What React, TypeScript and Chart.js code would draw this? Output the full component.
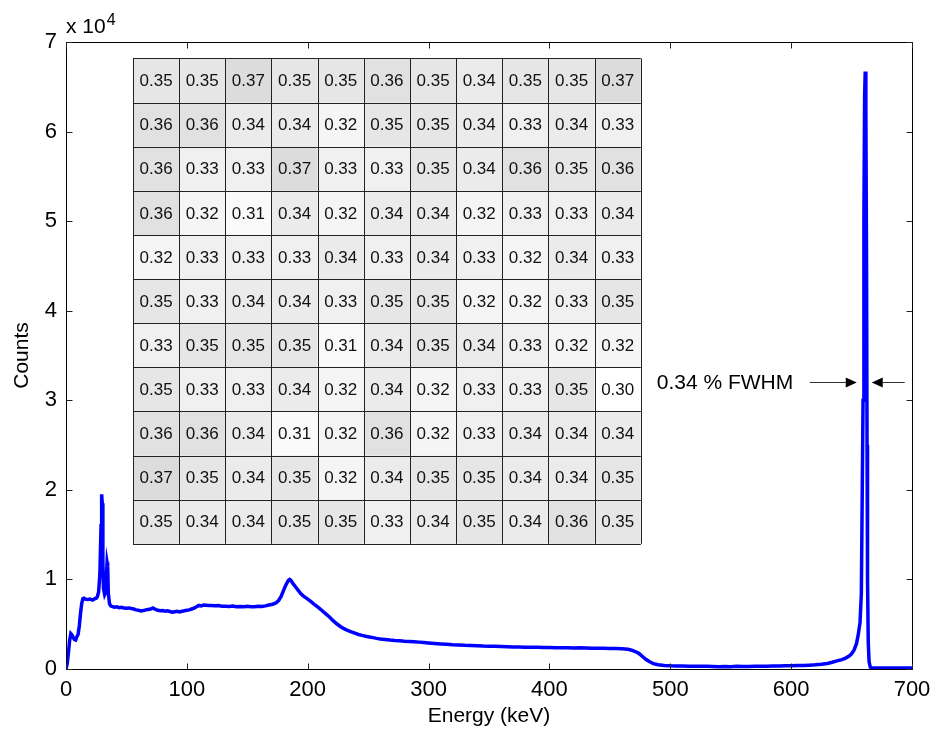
import React, { useEffect, useRef } from "react";
import { Chart, registerables } from "chart.js";

Chart.register(...registerables);

const FONT = '"Liberation Sans", Arial, Helvetica, sans-serif';

// Spectrum: energy (keV) and counts
const energies = [
  0, 1, 2, 3, 4, 5, 6, 7, 8, 9,
  10, 11, 12, 13, 14, 15, 16, 18, 20, 22,
  24, 25, 26, 27, 28, 29, 29.5, 30, 30.5, 31,
  32, 33, 33.5, 34, 34.5, 35, 36, 37, 38, 40,
  42, 44, 46, 48, 50, 52, 54, 56, 58, 60,
  62, 64, 66, 68, 70, 72, 74, 76, 78, 80,
  82, 84, 86, 88, 90, 92, 94, 96, 98, 100,
  102, 104, 106, 108, 110, 112, 114, 116, 118, 120,
  123, 126, 129, 132, 135, 138, 141, 144, 147, 150,
  153, 156, 159, 162, 165, 168, 171, 174, 176, 178,
  180, 182, 184, 185, 186, 188, 190, 192, 194, 196,
  198, 200, 203, 206, 209, 212, 215, 218, 221, 224,
  227, 230, 233, 236, 239, 242, 245, 248, 251, 254,
  257, 260, 264, 268, 272, 276, 280, 284, 288, 292,
  296, 300, 305, 310, 315, 320, 325, 330, 335, 340,
  345, 350, 355, 360, 365, 370, 375, 380, 385, 390,
  395, 400, 405, 410, 415, 420, 425, 430, 435, 440,
  445, 450, 455, 460, 465, 468, 471, 474, 477, 480,
  483, 486, 490, 495, 500, 505, 510, 515, 520, 525,
  530, 535, 540, 545, 550, 555, 560, 565, 570, 575,
  580, 585, 590, 595, 600, 605, 610, 615, 620, 625,
  630, 634, 638, 642, 645, 648, 650, 652, 654, 655.5,
  657, 658.1, 659.5, 660.2, 660.8, 661.3, 661.8, 662.4, 662.8, 663.2,
  663.8, 664.5, 665.5, 666.5, 668, 672, 676, 680, 685, 690,
  695, 700,
];

const counts = [
  0, 600, 1800, 3200, 3950, 3800, 3500, 3300, 3250, 3600,
  3850, 4800, 6200, 7300, 7850, 7900, 7800, 7750, 7800, 7700,
  7850, 7900, 8100, 8600, 10500, 16000, 19500, 18500, 12000, 9000,
  8300, 8600, 10500, 11900, 11500, 8500, 7300, 7050, 7000, 6900,
  6950, 6850, 6880, 6800, 6780, 6820, 6750, 6700, 6600, 6550,
  6480, 6520, 6600, 6650, 6700, 6820, 6650, 6550, 6500, 6520,
  6450, 6500, 6420, 6350, 6400, 6450, 6380, 6450, 6500, 6560,
  6600, 6700, 6800, 6950, 7100, 7050, 7150, 7120, 7080, 7100,
  7050, 7080, 7010, 7000, 6980, 7020, 6950, 6970, 6940, 7000,
  6960, 6940, 7000, 6980, 7050, 7150, 7230, 7400, 7670, 8100,
  8780, 9400, 9890, 10000, 9900, 9500, 9150, 8800, 8450, 8200,
  8000, 7800, 7500, 7150, 6850, 6500, 6150, 5800, 5400, 5050,
  4750, 4500, 4300, 4150, 4000, 3850, 3750, 3650, 3580, 3500,
  3420, 3350, 3300, 3230, 3180, 3150, 3100, 3080, 3050, 3000,
  2950, 2900, 2850, 2800, 2750, 2700, 2680, 2640, 2620, 2600,
  2560, 2540, 2530, 2500, 2480, 2470, 2450, 2440, 2430, 2420,
  2400, 2410, 2380, 2370, 2360, 2350, 2370, 2340, 2320, 2330,
  2310, 2300, 2280, 2270, 2200, 2100, 1950, 1750, 1400, 1050,
  800, 600, 480, 400, 360, 340, 330, 320, 310, 300,
  300, 290, 260, 280, 250, 300, 270, 290, 300, 310,
  320, 330, 340, 350, 370, 380, 400, 430, 470, 530,
  620, 750, 900, 1050, 1220, 1450, 1700, 2100, 2800, 3800,
  5200, 8450, 30000, 50000, 64000, 66700, 63000, 45000, 25000, 10000,
  3000, 800, 200, 120, 120, 110, 120, 110, 100, 110,
  110, 100,
];

// 11 x 11 table of FWHM values (%)
const tableValues = [
  [0.35, 0.35, 0.37, 0.35, 0.35, 0.36, 0.35, 0.34, 0.35, 0.35, 0.37],
  [0.36, 0.36, 0.34, 0.34, 0.32, 0.35, 0.35, 0.34, 0.33, 0.34, 0.33],
  [0.36, 0.33, 0.33, 0.37, 0.33, 0.33, 0.35, 0.34, 0.36, 0.35, 0.36],
  [0.36, 0.32, 0.31, 0.34, 0.32, 0.34, 0.34, 0.32, 0.33, 0.33, 0.34],
  [0.32, 0.33, 0.33, 0.33, 0.34, 0.33, 0.34, 0.33, 0.32, 0.34, 0.33],
  [0.35, 0.33, 0.34, 0.34, 0.33, 0.35, 0.35, 0.32, 0.32, 0.33, 0.35],
  [0.33, 0.35, 0.35, 0.35, 0.31, 0.34, 0.35, 0.34, 0.33, 0.32, 0.32],
  [0.35, 0.33, 0.33, 0.34, 0.32, 0.34, 0.32, 0.33, 0.33, 0.35, 0.30],
  [0.36, 0.36, 0.34, 0.31, 0.32, 0.36, 0.32, 0.33, 0.34, 0.34, 0.34],
  [0.37, 0.35, 0.34, 0.35, 0.32, 0.34, 0.35, 0.35, 0.34, 0.34, 0.35],
  [0.35, 0.34, 0.34, 0.35, 0.35, 0.33, 0.34, 0.35, 0.34, 0.36, 0.35],
];

const xTickValues = [0, 100, 200, 300, 400, 500, 600, 700];
const yTickValues = [0, 10000, 20000, 30000, 40000, 50000, 60000, 70000];

const xTitle = "Energy (keV)";
const yTitle = "Counts";
const exponentText = "x 10";
const exponentPower = "4";
const fwhmLabel = "0.34 % FWHM";

// placement in data coordinates
const TABLE_E0 = 55.4;
const TABLE_E1 = 475.6;
const TABLE_C0 = 68160;
const TABLE_C1 = 13970;
const LABEL_E = 488.8;
const ARROW_C = 32070;
const ARROW1_E0 = 615.4;
const ARROW1_TIP = 654.3;
const ARROW2_TIP = 666.7;
const ARROW2_E1 = 694;

function cellGray(v: number) {
  const g = Math.round(255 - (v - 0.3) * 500);
  return `rgb(${g},${g},${g})`;
}

const overlayPlugin = {
  id: "overlay",
  afterDatasetsDraw(chart: any) {
    const { ctx, scales } = chart;
    const x = scales.x;
    const y = scales.y;
    ctx.save();

    // table
    const L = x.getPixelForValue(TABLE_E0);
    const R = x.getPixelForValue(TABLE_E1);
    const T = y.getPixelForValue(TABLE_C0);
    const B = y.getPixelForValue(TABLE_C1);
    const nR = tableValues.length;
    const nC = tableValues[0].length;
    const cw = (R - L) / nC;
    const ch = (B - T) / nR;
    for (let r = 0; r < nR; r++) {
      for (let c = 0; c < nC; c++) {
        ctx.fillStyle = cellGray(tableValues[r][c]);
        ctx.fillRect(L + c * cw, T + r * ch, cw, ch);
      }
    }
    ctx.strokeStyle = "#222";
    ctx.lineWidth = 1;
    ctx.beginPath();
    for (let r = 0; r <= nR; r++) {
      const yy = Math.round(T + r * ch) + 0.5;
      ctx.moveTo(L, yy);
      ctx.lineTo(R, yy);
    }
    for (let c = 0; c <= nC; c++) {
      const xx = Math.round(L + c * cw) + 0.5;
      ctx.moveTo(xx, T);
      ctx.lineTo(xx, B);
    }
    ctx.stroke();
    ctx.fillStyle = "#111";
    ctx.font = `17px ${FONT}`;
    ctx.textAlign = "center";
    ctx.textBaseline = "middle";
    for (let r = 0; r < nR; r++) {
      for (let c = 0; c < nC; c++) {
        ctx.fillText(tableValues[r][c].toFixed(2), L + (c + 0.5) * cw, T + (r + 0.5) * ch + 1);
      }
    }

    // FWHM annotation
    const ay = Math.round(y.getPixelForValue(ARROW_C)) + 0.5;
    ctx.fillStyle = "#000";
    ctx.font = `21px ${FONT}`;
    ctx.textAlign = "left";
    ctx.textBaseline = "middle";
    ctx.fillText(fwhmLabel, x.getPixelForValue(LABEL_E), ay + 1);

    const drawArrow = (from: number, tip: number) => {
      const dir = tip > from ? 1 : -1;
      ctx.strokeStyle = "#333";
      ctx.lineWidth = 1;
      ctx.beginPath();
      ctx.moveTo(from, ay);
      ctx.lineTo(tip - dir * 11, ay);
      ctx.stroke();
      ctx.fillStyle = "#000";
      ctx.beginPath();
      ctx.moveTo(tip, ay);
      ctx.lineTo(tip - dir * 11, ay - 5);
      ctx.lineTo(tip - dir * 11, ay + 5);
      ctx.closePath();
      ctx.fill();
    };
    drawArrow(x.getPixelForValue(ARROW1_E0), x.getPixelForValue(ARROW1_TIP));
    drawArrow(x.getPixelForValue(ARROW2_E1), x.getPixelForValue(ARROW2_TIP));

    ctx.restore();
  },
  afterDraw(chart: any) {
    const { ctx, chartArea: a, scales } = chart;
    const x = scales.x;
    const y = scales.y;
    ctx.save();
    const l = Math.round(a.left) + 0.5;
    const r = Math.round(a.right) + 0.5;
    const t = Math.round(a.top) + 0.5;
    const b = Math.round(a.bottom) + 0.5;
    ctx.strokeStyle = "#000";
    ctx.lineWidth = 1;
    ctx.strokeRect(l, t, r - l, b - t);
    ctx.strokeStyle = "#222";
    ctx.beginPath();
    const tl = 6;
    xTickValues.forEach((v) => {
      const px = Math.round(x.getPixelForValue(v)) + 0.5;
      ctx.moveTo(px, b);
      ctx.lineTo(px, b - tl);
      ctx.moveTo(px, t);
      ctx.lineTo(px, t + tl);
    });
    yTickValues.forEach((v) => {
      const py = Math.round(y.getPixelForValue(v)) + 0.5;
      ctx.moveTo(l, py);
      ctx.lineTo(l + tl, py);
      ctx.moveTo(r, py);
      ctx.lineTo(r - tl, py);
    });
    ctx.stroke();

    // exponent label
    ctx.fillStyle = "#000";
    ctx.textAlign = "left";
    ctx.textBaseline = "alphabetic";
    ctx.font = `21px ${FONT}`;
    ctx.fillText(exponentText, a.left, a.top - 9);
    const w = ctx.measureText(exponentText).width;
    ctx.font = `16px ${FONT}`;
    ctx.fillText(exponentPower, a.left + w + 1, a.top - 17);
    ctx.restore();
  },
};

export default function App() {
  const ref = useRef<HTMLCanvasElement | null>(null);
  useEffect(() => {
    if (!ref.current) return;
    const points = energies.map((e, i) => ({ x: e, y: counts[i] }));
    const chart = new Chart(ref.current, {
      type: "line",
      data: {
        datasets: [
          {
            data: points,
            borderColor: "#0000ff",
            borderWidth: 3.5,
            pointRadius: 0,
            tension: 0,
            fill: false,
          },
        ],
      },
      options: {
        animation: false,
        responsive: false,
        events: [],
        layout: { padding: { left: 0, right: 24, top: 42, bottom: 0 } },
        plugins: { legend: { display: false }, tooltip: { enabled: false } },
        scales: {
          x: {
            type: "linear",
            min: 0,
            max: 700,
            grid: { display: false, drawTicks: false },
            border: { display: false },
            afterBuildTicks: (s: any) => {
              s.ticks = xTickValues.map((v) => ({ value: v }));
            },
            afterFit: (s: any) => {
              s.height = 65;
              s.paddingLeft = 0;
              s.paddingRight = 0;
              s.paddingTop = 0;
              s.paddingBottom = 0;
            },
            ticks: {
              color: "#000",
              padding: 8,
              maxRotation: 0,
              font: { family: FONT, size: 22 },
              callback: (v: any) => String(v),
            },
            title: {
              display: true,
              text: xTitle,
              color: "#000",
              font: { family: FONT, size: 21 },
              padding: { top: 0, bottom: 5 },
            },
          },
          y: {
            type: "linear",
            min: 0,
            max: 70000,
            grid: { display: false, drawTicks: false },
            border: { display: false },
            afterBuildTicks: (s: any) => {
              s.ticks = yTickValues.map((v) => ({ value: v }));
            },
            afterFit: (s: any) => {
              s.width = 66;
              s.paddingLeft = 0;
              s.paddingRight = 0;
              s.paddingTop = 0;
              s.paddingBottom = 0;
            },
            ticks: {
              color: "#000",
              padding: 9,
              font: { family: FONT, size: 22 },
              callback: (v: any) => String(Number(v) / 10000),
            },
            title: {
              display: true,
              text: yTitle,
              color: "#000",
              font: { family: FONT, size: 21 },
              padding: { top: 10, bottom: 0 },
            },
          },
        },
      },
      plugins: [overlayPlugin],
    });
    return () => chart.destroy();
  }, []);
  return (
    <div style={{ position: "fixed", left: 0, top: 0, width: 936, height: 734, background: "#fff" }}>
      <canvas ref={ref} width={936} height={734} style={{ display: "block" }} />
    </div>
  );
}
